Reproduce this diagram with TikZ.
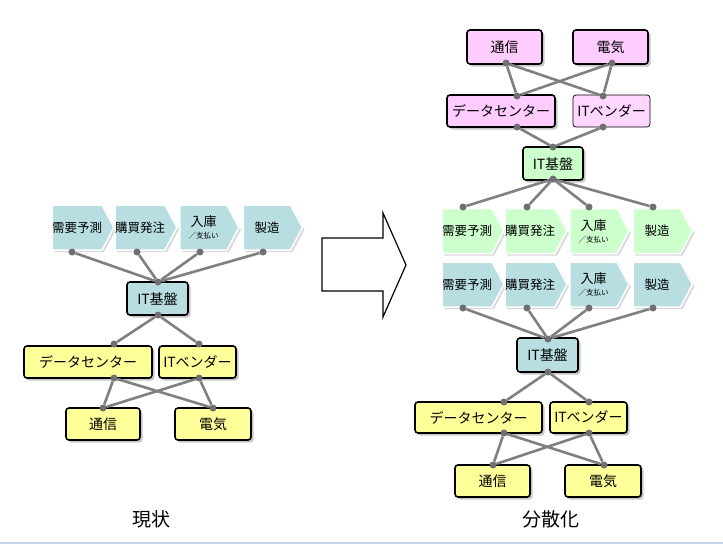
\documentclass[tikz,border=0pt]{standalone}
\usepackage{fontspec}
\setmainfont{Noto Sans CJK JP}
\usepackage{tikz}
\usetikzlibrary{shapes.symbols,shadows}
\definecolor{StepBlue}{RGB}{184,222,226}
\definecolor{StepGreen}{RGB}{204,255,204}
\definecolor{BoxPink}{RGB}{255,204,255}
\definecolor{BoxYellow}{RGB}{255,255,153}
\definecolor{LinkGray}{RGB}{128,128,128}
\definecolor{DotGray}{RGB}{112,112,112}
\definecolor{BaseLine}{RGB}{200,212,232}
\newcommand{\boxfont}{\fontsize{14}{16}\selectfont}
\newcommand{\stepfont}{\fontsize{12.5}{14}\selectfont}
\newcommand{\captionfont}{\fontsize{19}{21}\selectfont}
\newcommand{\NyukoLabel}{{\fontsize{13}{13}\selectfont 入庫}\\[-2pt]{\fontsize{7.5}{8}\selectfont ／支払い}}
\newcommand{\StepRow}[4]{% prefix xleft ycenter fill
\node[stepsig,fill=#4] (#1a) at (#2+24,#3) {需要予測};
\node[stepsig,fill=#4] (#1b) at (#2+87,#3) {購買発注};
\node[stepsig,fill=#4,align=center] (#1c) at (#2+150.5,#3) {\NyukoLabel};
\node[stepsig,fill=#4] (#1d) at (#2+214,#3) {製造};
}
\tikzset{
  stepsig/.style={signal, signal to=east, signal from=nowhere, signal pointer angle=124,
    minimum width=59, minimum height=45, inner xsep=0pt, inner ysep=1pt, draw=white, line width=1.5pt,
    font=\stepfont, drop shadow={shadow xshift=2pt, shadow yshift=-2pt, fill=black!30, opacity=0.5}},
  sysbox/.style={draw=black, line width=1.6pt, rounded corners=3pt, inner sep=0pt,
    minimum height=32, font=\boxfont,
    drop shadow={shadow xshift=2.5pt, shadow yshift=-2.5pt, fill=black!40, opacity=0.55}},
  thinbox/.style={draw=black, line width=0.7pt, rounded corners=3pt, inner sep=0pt,
    minimum height=32, font=\boxfont},
  dot/.style={circle, fill=DotGray, inner sep=0pt, minimum size=7pt},
  link/.style={draw=LinkGray, line width=2.6pt},
  caption/.style={font=\captionfont}
}

\begin{document}
\begin{tikzpicture}[x=1pt,y=-1pt]
\useasboundingbox (0,0) rectangle (723,544);
\draw[BaseLine,line width=2pt] (0,543) -- (723,543);

% ---- current state (left)
\StepRow{lc}{53}{227.5}{StepBlue}
\node[sysbox,fill=StepBlue,minimum width=61,minimum height=33] (lIT) at (157.5,298.5) {IT基盤};
\node[sysbox,fill=BoxYellow,minimum width=128] (lDC) at (88,362) {データセンター};
\node[sysbox,fill=BoxYellow,minimum width=77] (lVend) at (197.5,362) {ITベンダー};
\node[sysbox,fill=BoxYellow,minimum width=74] (lTel) at (103,424) {通信};
\node[sysbox,fill=BoxYellow,minimum width=76] (lPow) at (213,424) {電気};

\node[dot] (lcaB) at (72,252) {};
\node[dot] (lcbB) at (137,252) {};
\node[dot] (lccB) at (200,252) {};
\node[dot] (lcdB) at (263,252) {};
\node[dot] (lITt) at (158,282) {};
\node[dot] (lITb) at (158,315) {};
\node[dot] (lDCt) at (114,344) {};
\node[dot] (lDCb) at (114,378) {};
\node[dot] (lVendt) at (199,344) {};
\node[dot] (lVendb) at (199,378) {};
\node[dot] (lTelt) at (103,408) {};
\node[dot] (lPowt) at (213,408) {};

\draw[link] (lITt) -- (lcaB);
\draw[link] (lITt) -- (lcbB);
\draw[link] (lITt) -- (lccB);
\draw[link] (lITt) -- (lcdB);
\draw[link] (lITb) -- (lDCt);
\draw[link] (lITb) -- (lVendt);
\draw[link] (lDCb) -- (lTelt);
\draw[link] (lDCb) -- (lPowt);
\draw[link] (lVendb) -- (lTelt);
\draw[link] (lVendb) -- (lPowt);

\node[caption] (lcap) at (151,519) {現状};

% ---- big arrow
\draw[line width=1.2pt,line join=miter]
(322,238) -- (383,238) -- (383,213) -- (406,265) -- (383,317) -- (383,291) -- (322,291) -- cycle;

% ---- decentralised (right)
\node[sysbox,fill=BoxPink,minimum width=75,minimum height=34] (rTel) at (504.5,47) {通信};
\node[sysbox,fill=BoxPink,minimum width=75,minimum height=34] (rPow) at (610.5,47) {電気};
\node[sysbox,fill=BoxPink,minimum width=108] (rDC) at (501,111) {データセンター};
\node[thinbox,fill=BoxPink!80,minimum width=77] (rVend) at (611.5,111) {ITベンダー};
\node[sysbox,fill=StepGreen,minimum width=60,minimum height=33] (rIT) at (553,163.5) {IT基盤};
\StepRow{rg}{443}{231}{StepGreen}
\StepRow{rb}{443}{284.5}{StepBlue}
\node[sysbox,fill=StepBlue,minimum width=61,minimum height=34] (rIT2) at (547.5,355) {IT基盤};
\node[sysbox,fill=BoxYellow,minimum width=127,minimum height=31] (rDC2) at (478.5,417.5) {データセンター};
\node[sysbox,fill=BoxYellow,minimum width=77,minimum height=31] (rVend2) at (588.5,417.5) {ITベンダー};
\node[sysbox,fill=BoxYellow,minimum width=75] (rTel2) at (492.5,481) {通信};
\node[sysbox,fill=BoxYellow,minimum width=76] (rPow2) at (603,481) {電気};

\node[dot] (rTelb) at (506,63) {};
\node[dot] (rPowb) at (612,63) {};
\node[dot] (rDCt) at (517,96) {};
\node[dot] (rVendt) at (603,96) {};
\node[dot] (rDCb) at (517,127) {};
\node[dot] (rVendb) at (603,127) {};
\node[dot] (rITt) at (553,147) {};
\node[dot] (rITb) at (553,179) {};
\node[dot] (rgaT) at (463,207) {};
\node[dot] (rgbT) at (527,207) {};
\node[dot] (rgcT) at (589,207) {};
\node[dot] (rgdT) at (653,207) {};
\node[dot] (rbaB) at (463,308) {};
\node[dot] (rbbB) at (527,308) {};
\node[dot] (rbcB) at (589,308) {};
\node[dot] (rbdB) at (653,308) {};
\node[dot] (rIT2t) at (548,339) {};
\node[dot] (rIT2b) at (548,372) {};
\node[dot] (rDC2t) at (504,402) {};
\node[dot] (rDC2b) at (504,433) {};
\node[dot] (rVend2t) at (589,402) {};
\node[dot] (rVend2b) at (589,433) {};
\node[dot] (rTel2t) at (493,465) {};
\node[dot] (rPow2t) at (604,465) {};

\draw[link] (rTelb) -- (rDCt);
\draw[link] (rTelb) -- (rVendt);
\draw[link] (rPowb) -- (rDCt);
\draw[link] (rPowb) -- (rVendt);
\draw[link] (rDCb) -- (rITt);
\draw[link] (rVendb) -- (rITt);
\draw[link] (rITb) -- (rgaT);
\draw[link] (rITb) -- (rgbT);
\draw[link] (rITb) -- (rgcT);
\draw[link] (rITb) -- (rgdT);
\draw[link] (rIT2t) -- (rbaB);
\draw[link] (rIT2t) -- (rbbB);
\draw[link] (rIT2t) -- (rbcB);
\draw[link] (rIT2t) -- (rbdB);
\draw[link] (rIT2b) -- (rDC2t);
\draw[link] (rIT2b) -- (rVend2t);
\draw[link] (rDC2b) -- (rTel2t);
\draw[link] (rDC2b) -- (rPow2t);
\draw[link] (rVend2b) -- (rTel2t);
\draw[link] (rVend2b) -- (rPow2t);

\node[caption] (rcap) at (551,519) {分散化};
\end{tikzpicture}
\end{document}
